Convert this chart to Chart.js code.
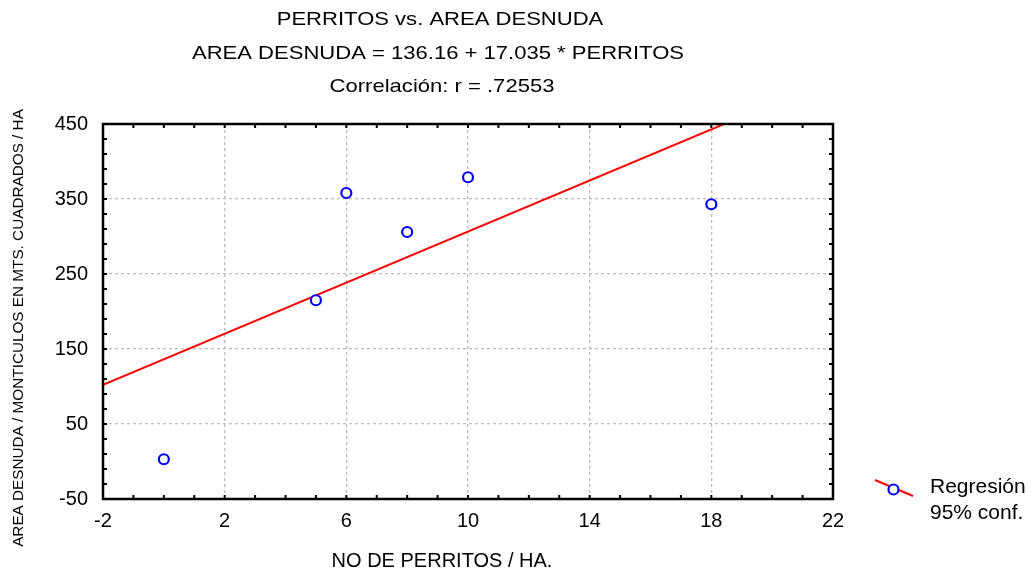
<!DOCTYPE html>
<html>
<head>
<meta charset="utf-8">
<script src="https://cdn.jsdelivr.net/npm/chart.js@4.4.1/dist/chart.umd.min.js"></script>
<style>
  html,body{margin:0;padding:0;background:#fff;}
  #wrap{width:1036px;height:569px;position:relative;}
</style>
</head>
<body>
<div id="wrap"><canvas id="chart" width="1036" height="569"></canvas></div>
<script>
// datos
var perritos = [0, 5, 6, 8, 10, 18];
var areaDesnuda = [3, 215, 358, 306, 379, 343];
var intercepto = 136.16, pendiente = 17.035;
var lineaX = [-2, 22];
var titulos = ["PERRITOS vs. AREA DESNUDA", "AREA DESNUDA = 136.16 + 17.035 * PERRITOS", "Correlación: r = .72553"];
var tituloX = "NO DE PERRITOS / HA.";
var tituloY = "AREA DESNUDA / MONTICULOS EN MTS. CUADRADOS / HA";
var leyenda = ["Regresión", "95% conf."];

var puntos = perritos.map(function(v, k){ return {x: v, y: areaDesnuda[k]}; });
var linea = lineaX.map(function(v){ return {x: v, y: intercepto + pendiente * v}; });

var FUENTE = "'Liberation Sans', Arial, sans-serif";

// texto un poco estirado a lo ancho, como en el original
function textoAncho(ctx, txt, x, y, escala){
	ctx.save();
	ctx.translate(x, y);
	ctx.scale(escala, 1);
	ctx.fillText(txt, 0, 0);
	ctx.restore();
}

var extras = {
	id: 'extras',
	afterDraw: function(chart){
		var ctx = chart.ctx, a = chart.chartArea;
		var sx = chart.scales.x, sy = chart.scales.y;
		ctx.save();
		// ticks menores hacia dentro
		ctx.strokeStyle = '#000';
		ctx.lineWidth = 2;
		ctx.beginPath();
		for(var i = -2; i <= 22; i++){
			var px = sx.getPixelForValue(i);
			ctx.moveTo(px, a.bottom); ctx.lineTo(px, a.bottom - 4);
			ctx.moveTo(px, a.top); ctx.lineTo(px, a.top + 4);
		}
		for(var j = -50; j <= 450; j += 20){
			var py = sy.getPixelForValue(j);
			ctx.moveTo(a.left, py); ctx.lineTo(a.left + 4, py);
			ctx.moveTo(a.right, py); ctx.lineTo(a.right - 4, py);
		}
		ctx.stroke();
		// marco
		ctx.lineWidth = 2.5;
		ctx.strokeRect(a.left, a.top, a.right - a.left, a.bottom - a.top);

		// titulos
		ctx.fillStyle = '#000';
		ctx.textAlign = 'center';
		ctx.textBaseline = 'alphabetic';
		ctx.font = '19px ' + FUENTE;
		textoAncho(ctx, titulos[0], 440, 25, 1.16);
		textoAncho(ctx, titulos[1], 438, 59, 1.16);
		textoAncho(ctx, titulos[2], 442, 92, 1.16);
		ctx.font = '20px ' + FUENTE;
		ctx.fillText(tituloX, 442, 567);

		ctx.save();
		ctx.translate(23, 328);
		ctx.rotate(-Math.PI / 2);
		ctx.font = '15.3px ' + FUENTE;
		ctx.fillText(tituloY, 0, 0);
		ctx.restore();

		// leyenda
		ctx.strokeStyle = '#ff0000';
		ctx.lineWidth = 2;
		ctx.beginPath();
		ctx.moveTo(875, 480); ctx.lineTo(913, 496);
		ctx.stroke();
		ctx.fillStyle = '#fff';
		ctx.strokeStyle = '#0000ff';
		ctx.lineWidth = 2.2;
		ctx.beginPath();
		ctx.arc(893.5, 489.5, 5, 0, Math.PI * 2);
		ctx.fill(); ctx.stroke();
		ctx.fillStyle = '#000';
		ctx.textAlign = 'left';
		ctx.font = '21px ' + FUENTE;
		ctx.fillText(leyenda[0], 930, 493);
		ctx.fillText(leyenda[1], 930, 519);
		ctx.restore();
	}
};

new Chart(document.getElementById("chart"), {
	type: 'scatter',
	data: {
		datasets: [
			{
				type: 'line',
				label: 'Regresión',
				data: linea,
				borderColor: '#ff0000',
				borderWidth: 2,
				pointRadius: 0,
				fill: false,
				order: 2
			},
			{
				label: 'Datos',
				data: puntos,
				pointRadius: 5,
				pointBorderWidth: 2.2,
				pointBorderColor: '#0000ff',
				pointBackgroundColor: '#ffffff',
				order: 1
			}
		]
	},
	options: {
		responsive: false,
		animation: false,
		devicePixelRatio: 1,
		layout: { padding: { left: 0, right: 203, top: 124, bottom: 0 } },
		plugins: {
			legend: { display: false },
			tooltip: { enabled: false },
			title: { display: false }
		},
		scales: {
			x: {
				type: 'linear',
				min: -2, max: 22,
				ticks: { stepSize: 4, color: '#000', font: { size: 20, family: FUENTE }, padding: 10, maxRotation: 0 },
				grid: { color: '#bdbdbd', lineWidth: 1.3, drawTicks: false },
				border: { display: false, dash: [3, 3] },
				afterFit: function(s){ s.height = 70; }
			},
			y: {
				type: 'linear',
				min: -50, max: 450,
				ticks: { stepSize: 100, color: '#000', font: { size: 20, family: FUENTE }, padding: 15 },
				grid: { color: '#bdbdbd', lineWidth: 1.3, drawTicks: false },
				border: { display: false, dash: [3, 3] },
				afterFit: function(s){ s.width = 103; }
			}
		}
	},
	plugins: [extras]
});
</script>
</body>
</html>
